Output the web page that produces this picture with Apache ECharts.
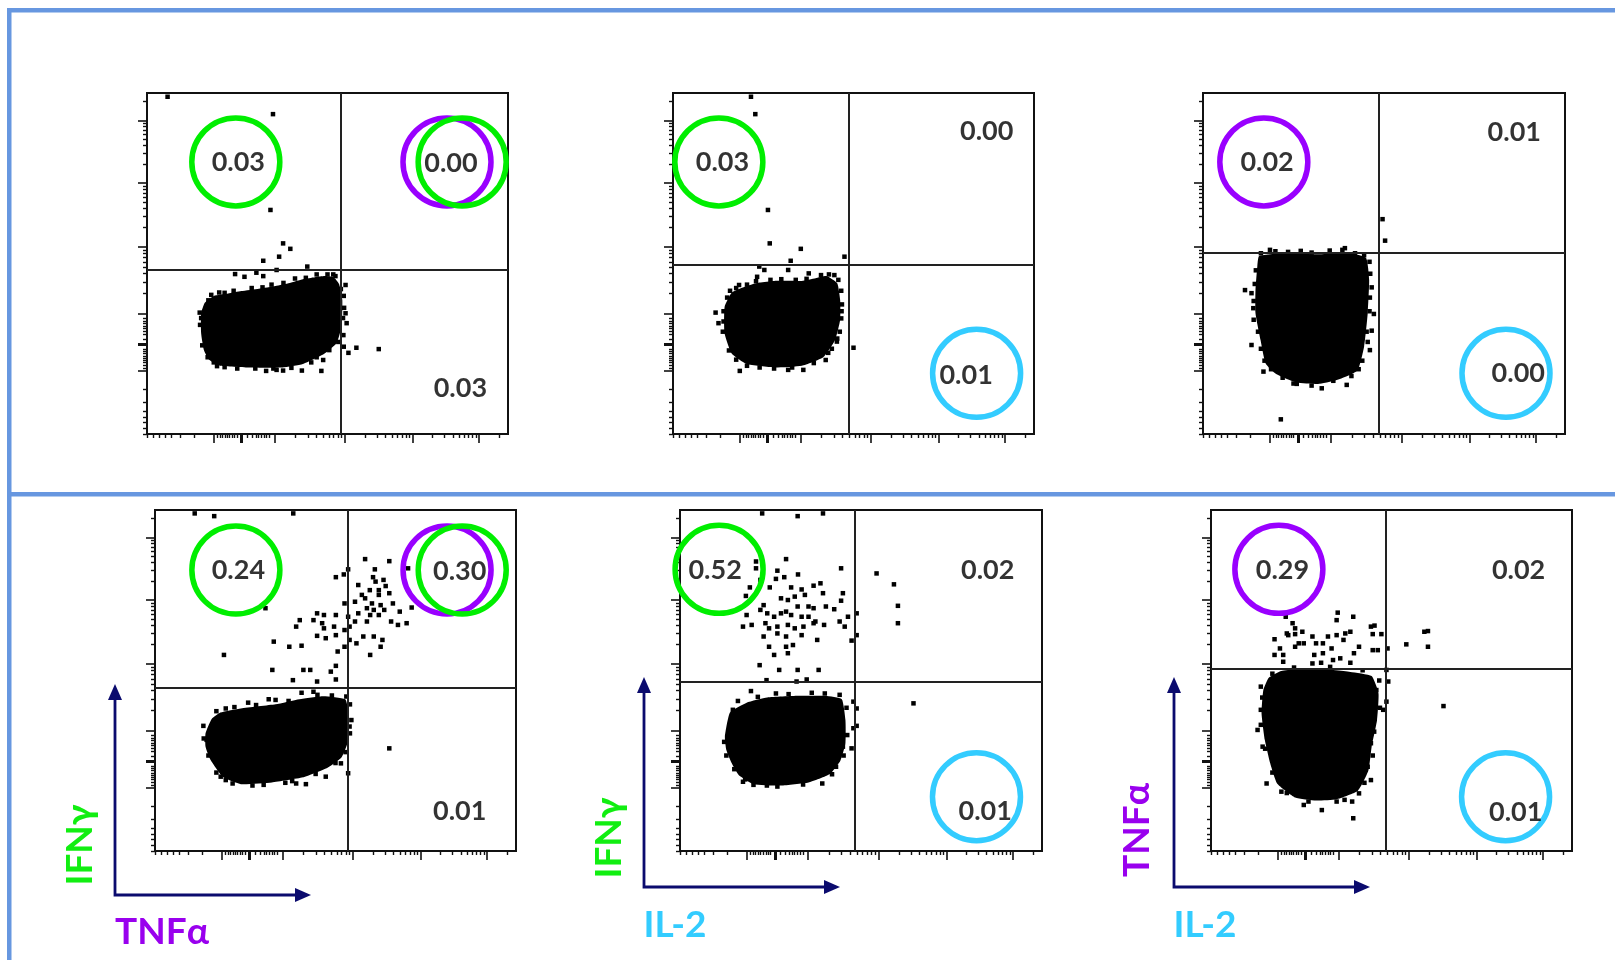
<!DOCTYPE html>
<html>
<head>
<meta charset="utf-8">
<script src="https://cdn.jsdelivr.net/npm/echarts@6.0.0/dist/echarts.min.js"></script>
<style>
  html, body { margin: 0; padding: 0; background: #fff; }
  #chart { width: 1615px; height: 960px; }
</style>
</head>
<body>
<div id="chart"></div>
<script>
// ---------- data (display channel units 0..1000 on both axes) ----------
const ticksMinor = [0,17,33,50,68,93,130,194,202,209,216,223,229,237,243,250,277,292,302,309,316,324,331,340,412,446,470,489,504,517,529,539,605,638,661,679,694,707,718,727,791,824,847,865,879,891,902,912,975];
const ticksMajor = [185,354,548,736,920];
const tickZero = [262];

const gates = [[538,482],[486,497],[485,532],[535,480],[483,496],[484,533]];

const labels1 = [[253,798,'0.03'],[842,795,'0.00'],[868,134,'0.03']];
const labels2 = [[137,798,'0.03'],[869,889,'0.00'],[812,173,'0.01']];
const labels3 = [[177,798,'0.02'],[860,886,'0.01'],[871,178,'0.00']];
const labels4 = [[231,824,'0.24'],[844,819,'0.30'],[844,117,'0.01']];
const labels5 = [[97,824,'0.52'],[850,822,'0.02'],[843,115,'0.01']];
const labels6 = [[198,824,'0.29'],[852,822,'0.02'],[844,113,'0.01']];

const rings1 = [[246,798,'IFNg'],[831,798,'TNFa'],[873,798,'IFNg']];
const rings2 = [[127,798,'IFNg'],[841,178,'IL2']];
const rings3 = [[168,798,'TNFa'],[837,178,'IL2']];
const rings4 = [[224,824,'IFNg'],[809,824,'TNFa'],[851,824,'IFNg']];
const rings5 = [[108,826,'IFNg'],[819,159,'IL2']];
const rings6 = [[188,826,'TNFa'],[816,159,'IL2']];

const blob1 = [[150,354],[160,385],[185,405],[225,412],[261,419],[310,426],[356,434],[395,443],[432,454],[465,460],[492,463],[517,460],[532,440],[541,393],[539,315],[525,266],[491,235],[432,205],[375,195],[280,195],[203,200],[172,218],[158,245],[150,295]];
const blob2 = [[143,373],[163,415],[204,434],[240,444],[280,449],[357,449],[395,457],[425,463],[455,442],[463,393],[463,334],[449,276],[416,225],[357,200],[280,195],[204,205],[163,235],[143,295]];
const blob3 = [[155,522],[231,530],[323,527],[388,534],[450,517],[459,452],[455,354],[445,256],[427,186],[378,161],[323,147],[259,151],[202,176],[173,207],[159,276],[145,354],[145,422],[150,491]];
const blob4 = [[140,345],[157,387],[181,406],[238,418],[334,430],[400,445],[467,454],[527,445],[536,404],[536,326],[517,275],[479,245],[410,216],[324,201],[238,196],[189,216],[154,267],[140,306]];
const blob5 = [[124,335],[138,406],[184,435],[241,450],[326,455],[402,455],[447,445],[457,384],[457,316],[443,265],[414,226],[355,201],[279,192],[203,196],[162,223],[143,257],[128,296]];
const blob6 = [[160,508],[195,528],[291,535],[386,525],[445,513],[464,462],[460,384],[445,306],[436,236],[407,177],[348,152],[291,148],[233,157],[183,198],[164,257],[149,326],[140,404],[145,472]];

const dots1 = [[57,989],[349,938],[342,657],[377,559],[397,543],[366,520],[322,508],[444,491],[244,469],[270,461],[303,473],[322,463],[359,481],[516,468],[550,437],[550,354],[553,325],[545,256],[558,238],[580,253],[642,249],[146,356],[163,271],[194,199],[330,185],[359,188],[377,186],[429,186],[483,185],[488,217],
  [170,392],[178,408],[200,415],[215,414],[240,420],[290,428],[320,430],[345,438],[378,443],[410,456],[440,458],[470,468],[500,468],[522,463],[537,425],[545,405],[546,370],[543,340],[544,290],[530,270],[505,246],[470,225],[455,210],[400,194],[350,192],[300,192],[250,192],[215,196],[185,210],[168,225],[153,260],[147,320],[150,340]];
const dots2 = [[216,989],[228,938],[263,657],[268,559],[354,543],[326,508],[475,520],[239,491],[253,481],[319,481],[376,471],[233,461],[183,437],[118,356],[126,325],[500,253],[185,185],[319,188],[361,188],[423,217],[454,271],[466,339],[447,466],
  [150,400],[158,420],[175,428],[205,438],[230,448],[270,452],[300,454],[340,452],[370,455],[410,466],[432,468],[458,452],[466,420],[468,380],[467,360],[462,300],[455,280],[440,250],[430,238],[390,208],[330,195],[280,192],[240,195],[205,200],[175,218],[155,245],[138,300],[140,330],[140,360]];
const dots3 = [[496,630],[503,567],[116,422],[134,413],[139,369],[472,352],[466,303],[134,261],[167,183],[397,144],[328,134],[259,147],[215,43],[185,540],[392,545],[461,246],
  [160,530],[200,536],[235,534],[270,537],[300,532],[350,538],[385,540],[420,530],[445,524],[460,505],[462,470],[466,430],[461,400],[460,360],[452,300],[455,270],[440,215],[430,190],[410,170],[360,156],[300,142],[250,148],[220,165],[188,190],[170,215],[160,250],[152,300],[140,335],[140,390],[143,440],[146,480]];
const dots4 = [[110,990],[164,982],[383,990],
  [582,856],[649,850],[701,829],[609,826],[535,826],[523,811],[501,803],[604,803],[633,795],[611,790],[563,780],[639,777],[595,765],[620,765],[573,751],[620,751],[649,756],[582,741],[554,731],[601,726],[625,721],[659,726],[525,726],[587,712],[606,707],[635,707],[678,702],[711,714],[563,697],[596,692],[620,692],[535,687],[449,697],[468,692],[501,692],[439,677],[463,668],[554,673],[587,673],[654,673],[673,663],[697,668],[401,677],[391,658],[468,653],[496,658],[539,658],[525,648],[577,629],[606,629],[630,619],[501,633],[449,631],[473,624],[539,619],[558,609],[625,599],[596,575],[525,599],[506,585],[372,599],[406,602],[329,614],[191,575],[325,531],[411,531],[430,531],[487,526],[501,543],[382,501],[449,497],[501,503],[306,712],
  [406,464],[439,467],[315,445],[334,443],[258,435],[196,418],[134,367],[143,326],[158,306],[182,218],[196,208],[301,194],[361,200],[391,198],[418,196],[473,218],[515,257],[535,228],[539,365],[544,384],[530,453],[649,301],
  [170,410],[220,422],[280,428],[370,440],[450,458],[490,456],[540,430],[540,345],[528,290],[500,258],[445,226],[380,205],[270,192],[215,198],[170,230],[148,280],[135,330]];
const dots5 = [[227,990],[325,982],[395,990],
  [210,849],[210,829],[293,856],[269,822],[326,811],[222,795],[193,773],[182,748],[265,798],[288,803],[248,773],[307,773],[336,767],[369,778],[388,785],[395,756],[450,756],[445,829],[279,741],[298,736],[317,746],[325,717],[345,751],[355,717],[369,712],[403,717],[426,709],[445,734],[231,721],[222,707],[241,697],[260,687],[279,697],[293,702],[307,692],[336,687],[355,687],[374,673],[184,692],[174,658],[198,663],[236,668],[246,653],[269,658],[298,663],[317,653],[341,658],[369,668],[398,663],[441,673],[455,658],[231,629],[269,638],[293,629],[336,633],[379,619],[246,599],[293,599],[312,604],[260,575],[298,580],[220,545],[274,531],[325,531],[383,531],[239,501],[322,497],[350,503],[464,687],[474,617],[488,697],[488,633],
  [543,814],[591,782],[602,719],[602,668],[645,433],
  [196,469],[265,462],[364,464],[441,458],[479,438],[488,418],[479,360],[488,367],[474,301],[131,335],[141,365],[146,414],[150,394],[174,203],[203,194],[269,189],[393,198],[431,247],[450,306],
  [160,440],[215,452],[300,460],[400,462],[460,420],[462,340],[452,280],[420,225],[340,195],[240,192],[180,210],[150,240],[128,280],[122,320]];
const dots6 = [[207,687],[226,668],[233,653],[210,638],[176,621],[214,633],[233,636],[253,643],[281,629],[257,609],[233,599],[191,594],[176,575],[200,575],[200,555],[243,609],[291,609],[310,609],[324,629],[348,633],[372,638],[386,643],[367,619],[334,594],[310,580],[286,575],[338,560],[358,565],[281,550],[305,552],[351,699],[394,687],[348,677],[443,658],[453,661],[472,636],[448,636],[410,599],[448,589],[462,589],[396,580],[386,552],[489,594],
  [541,606],[591,643],[601,645],[601,599],[644,425],
  [486,531],[491,497],[486,438],[477,414],[453,433],[458,472],[443,355],[443,316],[434,247],[443,208],[410,169],[391,145],[348,145],[307,120],[257,135],[394,96],[154,198],[143,306],[129,355],[138,414],[138,482],[195,174],
  [170,520],[230,538],[330,540],[420,530],[466,500],[468,420],[452,350],[448,280],[425,200],[370,150],[270,145],[210,170],[170,230],[150,300],[138,370],[142,450]];

const blobs = [blob1, blob2, blob3, blob4, blob5, blob6];
const dots = [dots1, dots2, dots3, dots4, dots5, dots6];
const labels = [labels1, labels2, labels3, labels4, labels5, labels6];
const rings = [rings1, rings2, rings3, rings4, rings5, rings6];

// ---------- styling / layout ----------
const COLORS = { IFNg: '#00ee00', TNFa: '#9900ff', IL2: '#33ccff' };
const TEXT_COLORS = { IFNg: '#11ee11', TNFa: '#9900ee', IL2: '#33ccff' };
const NAVY = '#0b0b6e';
const FONT = 'Lato';
const boxes = [
  {left:147, top:93, width:361, height:341},
  {left:673, top:93, width:361, height:341},
  {left:1203, top:93, width:362, height:341},
  {left:155, top:510, width:361, height:341},
  {left:680, top:510, width:362, height:341},
  {left:1211, top:510, width:361, height:341}
];

const grid = boxes.map(b => Object.assign({
  show: true, borderColor: '#111', borderWidth: 2, backgroundColor: 'transparent', containLabel: false
}, b));

function axis(kind, g, vals, len, w) {
  return {
    type: 'value', gridIndex: g, min: 0, max: 1000,
    position: kind === 'x' ? 'bottom' : 'left',
    axisLine: { show: false, onZero: false },
    splitLine: { show: false },
    axisLabel: { show: false },
    axisTick: { show: true, inside: false, customValues: vals, length: len, lineStyle: { color: '#111', width: w } }
  };
}
const xAxis = [], yAxis = [];
boxes.forEach((b, g) => {
  xAxis.push(axis('x', g, ticksMinor, 4, 1.4), axis('x', g, ticksMajor, 9, 1.6), axis('x', g, tickZero, 9, 3));
  yAxis.push(axis('y', g, ticksMinor, 4, 1.4), axis('y', g, ticksMajor, 9, 1.6), axis('y', g, tickZero, 9, 3));
});

const series = [];
boxes.forEach((b, g) => {
  const xi = 3 * g, yi = 3 * g;
  const outline = blobs[g];
  series.push({
    type: 'custom', xAxisIndex: xi, yAxisIndex: yi, silent: true, z: 2,
    data: [outline[0]],
    renderItem: (params, api) => ({
      type: 'polygon',
      shape: { points: outline.map(p => api.coord(p)), smooth: 0.15 },
      style: { fill: '#000' }
    })
  });
  series.push({
    type: 'scatter', xAxisIndex: xi, yAxisIndex: yi, silent: true, z: 3,
    symbol: 'rect', symbolSize: 4.5, itemStyle: { color: '#000', opacity: 1 },
    data: dots[g],
    markLine: {
      silent: true, symbol: ['none', 'none'], label: { show: false },
      lineStyle: { color: '#222', width: 2, type: 'solid', opacity: 1 },
      emphasis: { disabled: true },
      data: [{ xAxis: gates[g][0] }, { yAxis: gates[g][1] }]
    }
  });
  series.push({
    type: 'scatter', xAxisIndex: xi, yAxisIndex: yi, silent: true, z: 4,
    symbol: 'circle', symbolSize: 88,
    data: rings[g].map(r => ({ value: [r[0], r[1]], itemStyle: { color: 'rgba(0,0,0,0)', borderColor: COLORS[r[2]], borderWidth: 5.5, opacity: 1 } }))
  });
  series.push({
    type: 'scatter', xAxisIndex: xi, yAxisIndex: yi, silent: true, z: 5,
    symbol: 'circle', symbolSize: 1, itemStyle: { color: 'rgba(0,0,0,0)' },
    label: { show: true, position: 'inside', formatter: '{b}', color: '#000', fontSize: 27, fontWeight: 'bold', fontFamily: FONT },
    data: labels[g].map(l => ({ value: [l[0], l[1]], name: l[2] }))
  });
});

// frame + axis-direction arrows + marker names
const graphic = [];
const FRAME = '#6797e0';
graphic.push({ type: 'rect', shape: { x: 7, y: 8, width: 1608, height: 4.5 }, style: { fill: FRAME }, silent: true });
graphic.push({ type: 'rect', shape: { x: 7, y: 8, width: 4.5, height: 952 }, style: { fill: FRAME }, silent: true });
graphic.push({ type: 'rect', shape: { x: 7, y: 492, width: 1608, height: 4.5 }, style: { fill: FRAME }, silent: true });

function arrows(x, cornerY, topY, rightX) {
  graphic.push({ type: 'polyline', shape: { points: [[x, topY + 12], [x, cornerY], [rightX - 12, cornerY]] }, style: { stroke: NAVY, lineWidth: 2.8, fill: null }, silent: true });
  graphic.push({ type: 'polygon', shape: { points: [[x - 7, topY + 16], [x + 7, topY + 16], [x, topY]] }, style: { fill: NAVY }, silent: true });
  graphic.push({ type: 'polygon', shape: { points: [[rightX - 16, cornerY - 7], [rightX - 16, cornerY + 7], [rightX, cornerY]] }, style: { fill: NAVY }, silent: true });
}
arrows(115, 895, 684, 311);
arrows(644, 887, 677, 840);
arrows(1174, 887, 677, 1370);

function name(text, x, y, color, rotated) {
  graphic.push({
    type: 'text', x: x, y: y, rotation: rotated ? Math.PI / 2 : 0, silent: true,
    style: { text: text, fill: color, fontSize: 37, fontWeight: 'bold', fontFamily: FONT, align: 'center', verticalAlign: 'middle', textAlign: 'center', textVerticalAlign: 'middle' }
  });
}
name('IFNγ', 80, 845, TEXT_COLORS.IFNg, true);
name('TNFα', 162, 932, TEXT_COLORS.TNFa, false);
name('IFNγ', 609, 838, TEXT_COLORS.IFNg, true);
name('IL-2', 675, 925, TEXT_COLORS.IL2, false);
name('TNFα', 1137, 830, TEXT_COLORS.TNFa, true);
name('IL-2', 1205, 925, TEXT_COLORS.IL2, false);

const chart = echarts.init(document.getElementById('chart'), null, { renderer: 'canvas' });
chart.setOption({
  animation: false,
  backgroundColor: '#fff',
  grid: grid,
  xAxis: xAxis,
  yAxis: yAxis,
  series: series,
  graphic: graphic
});
</script>
</body>
</html>
